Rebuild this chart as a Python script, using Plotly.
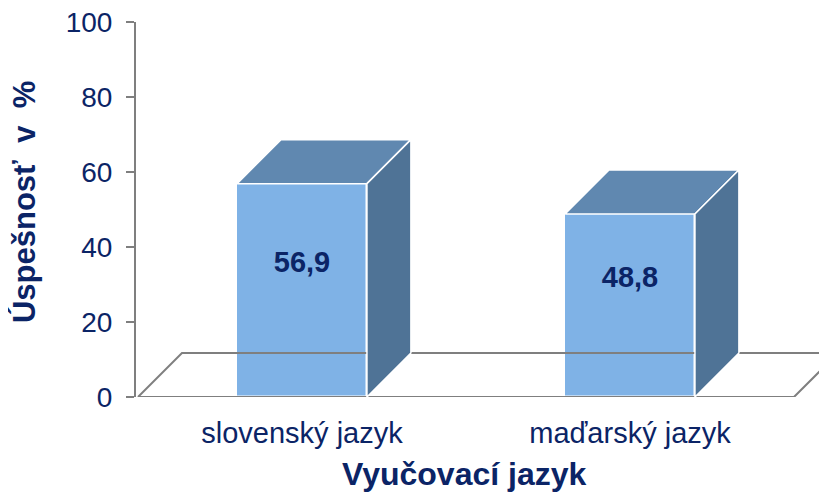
import plotly.graph_objects as go

# ---- data ----
categories = ["slovenský jazyk", "maďarský jazyk"]
values = [56.9, 48.8]
value_labels = ["56,9", "48,8"]
y_ticks = [0, 20, 40, 60, 80, 100]
x_title = "Vyučovací jazyk"
y_title = "Úspešnosť\u00a0\u00a0v\u00a0\u00a0%"

# ---- styling / geometry (in axis units) ----
NAVY = "#0b2466"
FRONT = "#7fb2e6"
TOP = "#6088b0"
SIDE = "#4f7396"
GRID = "#7f7f7f"
FONT = "Liberation Sans, Arial, sans-serif"

bar_w = 0.396          # bar width in category units
dx = 0.134             # depth offset, x (category units)
dy = 11.73             # depth offset, y (value units)
floor_l, floor_r = -0.5, 1.5

xs = list(range(len(categories)))

fig = go.Figure()

# floor (3D base)
fig.add_trace(go.Scatter(
    x=[floor_l, floor_r, floor_r + dx * 3, None, floor_l, floor_l + dx, floor_r + dx * 3],
    y=[0, 0, dy * 3, None, 0, dy, dy],
    mode="lines", line=dict(color=GRID, width=2), hoverinfo="skip", showlegend=False,
))

# bars: front faces
fig.add_trace(go.Bar(
    x=xs, y=values, width=bar_w,
    marker=dict(color=FRONT, line=dict(color="white", width=1.5)),
    hoverinfo="skip", showlegend=False,
))

# tops and sides
for xi, v in zip(xs, values):
    l, r = xi - bar_w / 2, xi + bar_w / 2
    fig.add_trace(go.Scatter(
        x=[l, r, r + dx, l + dx, l], y=[v, v, v + dy, v + dy, v],
        fill="toself", fillcolor=TOP, mode="lines",
        line=dict(color="white", width=1.5), hoverinfo="skip", showlegend=False,
    ))
    fig.add_trace(go.Scatter(
        x=[r, r + dx, r + dx, r, r], y=[0, dy, v + dy, v, 0],
        fill="toself", fillcolor=SIDE, mode="lines",
        line=dict(color="white", width=1.5), hoverinfo="skip", showlegend=False,
    ))

# value labels
fig.add_trace(go.Scatter(
    x=xs, y=[(v + dy) / 2 + 1 for v in values], text=value_labels,
    mode="text", textposition="middle center",
    textfont=dict(family=FONT, size=29, color=NAVY, weight="bold"),
    hoverinfo="skip", showlegend=False,
))

# page has an 8px body margin: figure is drawn from (8, 8)
fig.update_layout(
    width=819, height=484, autosize=False,
    margin=dict(l=128, r=0, t=14, b=95),
    paper_bgcolor="white", plot_bgcolor="white",
    font=dict(family=FONT, color=NAVY),
    bargap=0,
    xaxis=dict(
        range=[-0.5061, 1.6006], tickvals=xs, ticktext=categories,
        showgrid=False, zeroline=False, showline=False, ticks="",
        tickfont=dict(size=29, color=NAVY, family=FONT),
        ticklabelstandoff=16, automargin=False, fixedrange=True,
    ),
    yaxis=dict(
        range=[0, 100.001], tickvals=y_ticks,
        showgrid=False, zeroline=False, showline=True,
        linecolor=GRID, linewidth=2,
        ticks="outside", ticklen=8, tickwidth=2, tickcolor=GRID,
        tickfont=dict(size=28, color=NAVY, family=FONT),
        ticklabelstandoff=8, ticklabeloverflow="allow",
        automargin=False, fixedrange=True,
    ),
    annotations=[
        dict(text=x_title, xref="paper", yref="paper", x=0.476, y=-0.205,
             xanchor="center", yanchor="middle", showarrow=False,
             font=dict(size=32, color=NAVY, family=FONT, weight="bold")),
        dict(text=y_title, xref="paper", yref="paper", x=-0.162, y=0.52,
             xanchor="center", yanchor="middle", showarrow=False, textangle=-90,
             font=dict(size=31, color=NAVY, family=FONT, weight="bold")),
    ],
)

fig.write_html("out.html")
